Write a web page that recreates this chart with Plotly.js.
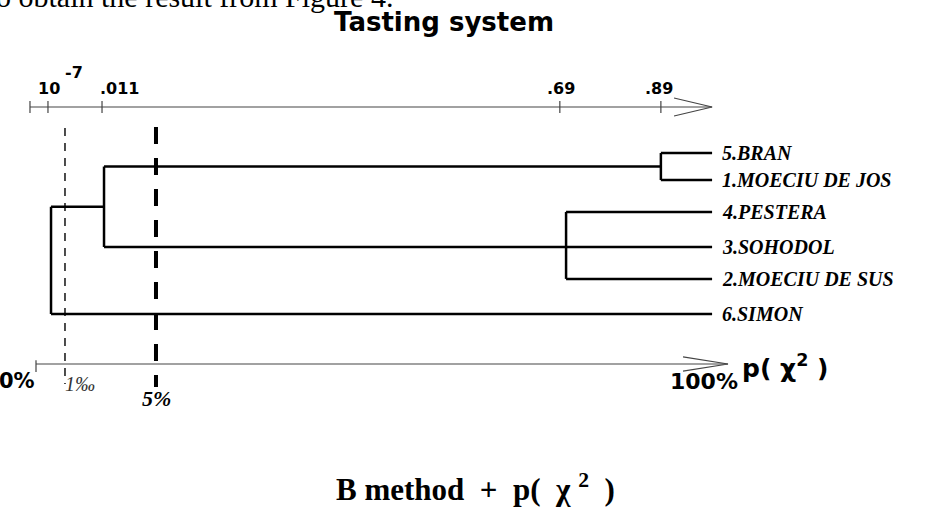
<!DOCTYPE html>
<html><head><meta charset="utf-8">
<script src="https://cdn.plot.ly/plotly-3.0.1.min.js"></script>
<style>html,body{margin:0;padding:0;background:#fff;}#chart{width:949px;height:518px;}</style>
</head><body><div id="chart"></div>
<script>
// ---------- data ----------
const leafNames = ['5.BRAN', '1.MOECIU DE JOS', '4.PESTERA', '3.SOHODOL', '2.MOECIU DE SUS', '6.SIMON'];
const leafRow = [0, 0.84, 1.83, 2.92, 3.91, 5.0];          // vertical order of the leaves
// merges: children are leaf indices 0..5, cluster k has index 6+k
const mergeChildren = [[0, 1], [2, 3, 4], [6, 7], [8, 5]];
const mergeP = ['.89', '.69', '.011', '10-7'];
const mergePos = [90.3, 76.6, 9.83, 2.17];                  // position on the drawn p(chi2) scale
const leafEndPos = 97.7;
const topTickPos = [-0.87, 1.73, 9.54, 75.7, 90.3];
const topTickText = ['', '10', '.011', '.69', '.89'];
const thresholdNames = ['1‰', '5%'];
const thresholdPos = [4.19, 17.34];
const bottomAxisText = ['0%', '100%'];
const bottomAxisPos = [0, 100];

// ---------- layout helpers ----------
const W = 949, H = 518;
const X0 = 36, XS = 6.92;   // px of scale origin, px per unit
const Y0 = 153, YS = 32.2;  // px of first leaf, px per row
const rowOf = py => (py - Y0) / YS;
const topAxisRow = rowOf(107), botAxisRow = rowOf(364);

// ---------- dendrogram ----------
const nodeX = leafNames.map(() => leafEndPos);
const nodeY = leafRow.slice();
const dx = [], dy = [];
mergeChildren.forEach((ch, k) => {
  const ys = ch.map(c => nodeY[c]);
  const lo = Math.min(...ys), hi = Math.max(...ys);
  let y;
  if (ch.length % 2 === 1) { const s = ys.slice().sort((a, b) => a - b); y = s[(s.length - 1) / 2]; }
  else y = (lo + hi) / 2;
  const x = mergePos[k];
  dx.push(x, x, null); dy.push(lo, hi, null);
  ch.forEach(c => { dx.push(x, nodeX[c], null); dy.push(nodeY[c], nodeY[c], null); });
  nodeX.push(x); nodeY.push(y);
});

// ---------- axes (drawn) ----------
const ax = [], ay = [];
const topTip = leafEndPos;
ax.push(topTickPos[0], topTip, null); ay.push(topAxisRow, topAxisRow, null);
topTickPos.forEach(p => { ax.push(p, p, null); ay.push(topAxisRow - 0.19, topAxisRow + 0.19, null); });
ax.push(topTip - 5.5, topTip, topTip - 5.5, null); ay.push(topAxisRow - 0.28, topAxisRow, topAxisRow + 0.28, null);
ax.push(bottomAxisPos[0], bottomAxisPos[1], null); ay.push(botAxisRow, botAxisRow, null);
ax.push(bottomAxisPos[0], bottomAxisPos[0], null); ay.push(botAxisRow - 0.12, botAxisRow + 0.25, null);
ax.push(bottomAxisPos[1] - 6.5, bottomAxisPos[1], bottomAxisPos[1] - 6.5, null); ay.push(botAxisRow - 0.22, botAxisRow, botAxisRow + 0.22, null);

const traces = [
  {x: ax, y: ay, mode: 'lines', line: {color: '#444', width: 1.2}, hoverinfo: 'skip', showlegend: false},
  {x: [thresholdPos[0], thresholdPos[0]], y: [rowOf(128), rowOf(384)], mode: 'lines',
   line: {color: '#000', width: 1.4, dash: '8px,7px'}, hoverinfo: 'skip', showlegend: false},
  {x: [thresholdPos[1], thresholdPos[1]], y: [rowOf(127), rowOf(387)], mode: 'lines',
   line: {color: '#000', width: 4, dash: '17px,14px'}, hoverinfo: 'skip', showlegend: false},
  {x: dx, y: dy, mode: 'lines', line: {color: '#000', width: 2.5}, hoverinfo: 'skip', showlegend: false}
];

// ---------- texts ----------
const SANS = 'DejaVu Sans', SERIF = 'Liberation Serif';
const P = (px, py) => ({x: px / W, y: 1 - py / H, xref: 'paper', yref: 'paper'});
const ann = [];
const txt = (px, py, text, font, xanchor) => ann.push(Object.assign(P(px, py),
  {text, showarrow: false, xanchor: xanchor || 'center', yanchor: 'middle', font, borderpad: 0}));

txt(-5, -4, 'o obtain the result from Figure 4.', {family: SERIF, size: 30, color: '#000'}, 'left');
txt(444, 22, '<b>Tasting system</b>', {family: SANS, size: 26, color: '#000'});

topTickText.forEach((t, i) => {
  if (!t) return;
  ann.push({x: topTickPos[i], y: topAxisRow, xref: 'x', yref: 'y', text: '<b>' + t + '</b>', showarrow: false,
    xanchor: i === 2 ? 'left' : 'center', xshift: i === 2 ? -4 : (i === 4 ? -2 : 1), yanchor: 'middle', yshift: 19,
    font: {family: SANS, size: 16, color: '#000'}});
});
ann.push({x: topTickPos[1], y: topAxisRow, xref: 'x', yref: 'y', text: '<b>-7</b>', showarrow: false,
  xanchor: 'left', xshift: 15, yanchor: 'middle', yshift: 35, font: {family: SANS, size: 16, color: '#000'}});

leafNames.forEach((n, i) => ann.push({x: leafEndPos, y: leafRow[i], xref: 'x', yref: 'y',
  text: '<b><i>' + n + '</i></b>', showarrow: false, xanchor: 'left', xshift: 8, yanchor: 'middle',
  font: {family: SERIF, size: 20, color: '#000'}}));

txt(17, 381, '<b>' + bottomAxisText[0] + '</b>', {family: SANS, size: 21, color: '#000'});
txt(704, 381, '<b>' + bottomAxisText[1] + '</b>', {family: SANS, size: 22, color: '#000'});
txt(741, 366, '<b>p(&nbsp;χ<sup>2</sup> )</b>', {family: SANS, size: 25, color: '#000'}, 'left');
txt(80, 384, '<i>1‰</i>', {family: SERIF, size: 20, color: '#333'});
txt(156, 398, '<b><i>' + thresholdNames[1] + '</i></b>', {family: SERIF, size: 22, color: '#000'});
txt(475, 487, '<b>B method&nbsp; +&nbsp; p(&nbsp; χ&nbsp;<sup>2</sup>&nbsp; )</b>', {family: SERIF, size: 31, color: '#000'});

const layout = {
  width: W, height: H, margin: {l: 0, r: 0, t: 0, b: 0},
  paper_bgcolor: '#fff', plot_bgcolor: '#fff',
  xaxis: {range: [(0 - X0) / XS, (W - X0) / XS], visible: false, fixedrange: true},
  yaxis: {range: [rowOf(H), rowOf(0)], visible: false, fixedrange: true},
  annotations: ann, showlegend: false
};
Plotly.newPlot('chart', traces, layout, {staticPlot: true, displayModeBar: false});
</script></body></html>
